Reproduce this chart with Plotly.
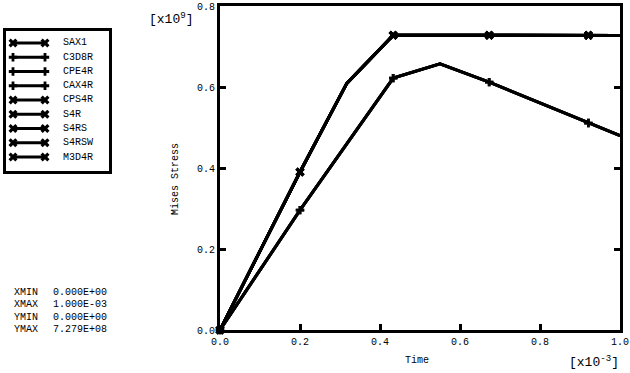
import plotly.graph_objects as go

# ---- data (Time in 1e-3 s, Mises stress in 1e9 Pa) ----
time_upper = [0.0, 0.2, 0.317, 0.433, 0.673, 0.921, 1.0]
stress_upper = [0.0, 0.390, 0.609, 0.728, 0.7279, 0.7275, 0.7272]
marked_upper = [0, 1, 3, 4, 5]

time_lower = [0.0, 0.2, 0.433, 0.55, 0.673, 0.921, 1.0]
stress_lower = [0.0, 0.296, 0.622, 0.657, 0.612, 0.511, 0.480]
marked_lower = [0, 1, 2, 4, 5]

series_names = ["SAX1", "C3D8R", "CPE4R", "CAX4R", "CPS4R", "S4R", "S4RS", "S4RSW", "M3D4R"]
series_curve = ["upper", "lower", "lower", "lower", "upper", "upper", "upper", "upper", "upper"]

x_ticks = [0.0, 0.2, 0.4, 0.6, 0.8, 1.0]
y_ticks = [0.0, 0.2, 0.4, 0.6, 0.8]

stats_labels = ["XMIN", "XMAX", "YMIN", "YMAX"]
stats_values = ["0.000E+00", "1.000E-03", "0.000E+00", "7.279E+08"]

FONT = "Liberation Mono"
INK = "black"
W, H = 630, 373
LEG_W, LEG_H = 130, 185  # pixel extent of the legend overlay axes

def px_x(p):
    return p / W

def px_y(p):
    return 1 - p / H

def txt(size=10):
    return dict(family=FONT, size=size, color=INK)

styles = {
    "upper": dict(x=time_upper, y=stress_upper, marked=marked_upper, symbol="x", size=8),
    "lower": dict(x=time_lower, y=stress_lower, marked=marked_lower, symbol="cross", size=7),
}

fig = go.Figure()
for name, c in zip(series_names, series_curve):
    s = styles[c]
    sizes = [s["size"] if i in s["marked"] else 0 for i in range(len(s["x"]))]
    fig.add_trace(go.Scatter(
        x=s["x"], y=s["y"], name=name, mode="lines+markers",
        line=dict(color=INK, width=3),
        marker=dict(symbol=s["symbol"], size=sizes, color=INK, line=dict(width=0)),
        cliponaxis=False, showlegend=False,
    ))

# ---- hand-drawn legend (pixel-space axes in the left margin) ----
LEG_X0, LEG_X1 = 13, 45
LEG_ROW0, LEG_STEP = 43, 14.25
for i, (name, c) in enumerate(zip(series_names, series_curve)):
    s = styles[c]
    yy = LEG_ROW0 + i * LEG_STEP
    fig.add_trace(go.Scatter(
        x=[LEG_X0, LEG_X1], y=[yy, yy], mode="lines+markers",
        xaxis="x2", yaxis="y2", showlegend=False, hoverinfo="skip",
        line=dict(color=INK, width=3),
        marker=dict(symbol=s["symbol"], size=s["size"], color=INK, line=dict(width=0)),
        cliponaxis=False,
    ))
    fig.add_annotation(text=name, xref="paper", yref="paper",
                       x=px_x(61), y=px_y(yy), xanchor="left", yanchor="middle",
                       showarrow=False, font=txt())
fig.add_shape(type="rect", xref="paper", yref="paper",
              x0=px_x(4.5), x1=px_x(110.5), y0=px_y(29.5), y1=px_y(172.5),
              line=dict(color=INK, width=3), fillcolor="rgba(0,0,0,0)")

fig.update_layout(
    template="none",
    width=W, height=H, autosize=False,
    margin=dict(l=0, r=0, t=0, b=0, pad=0),
    paper_bgcolor="white", plot_bgcolor="rgba(0,0,0,0)",
    font=txt(),
    showlegend=False,
    xaxis=dict(
        domain=[220 / W, 620 / W], automargin=False,
        range=[0, 1.0], tickvals=x_ticks, ticktext=[f"{v:.1f}" for v in x_ticks],
        ticks="inside", ticklen=6, tickwidth=3, tickcolor=INK, tickfont=txt(),
        showline=True, linewidth=3, linecolor=INK, mirror=True,
        showgrid=False, zeroline=False,
    ),
    yaxis=dict(
        domain=[1 - 330 / H, 1 - 6 / H], automargin=False,
        range=[0, 0.8], tickvals=y_ticks, ticktext=[f"{v:.1f}" for v in y_ticks],
        ticks="inside", ticklen=6, tickwidth=3, tickcolor=INK, tickfont=txt(),
        showline=True, linewidth=3, linecolor=INK, mirror="ticks",
        showgrid=False, zeroline=False,
    ),
    xaxis2=dict(domain=[0, LEG_W / W], range=[0, LEG_W], visible=False,
                fixedrange=True, automargin=False, anchor="y2"),
    yaxis2=dict(domain=[1 - LEG_H / H, 1], range=[LEG_H, 0], visible=False,
                fixedrange=True, automargin=False, anchor="x2"),
)

fig.add_annotation(text="Mises Stress", textangle=-90, xref="paper", yref="paper",
                   x=px_x(175), y=px_y(179), xanchor="center", yanchor="middle",
                   showarrow=False, font=txt())
fig.add_annotation(text="Time", xref="paper", yref="paper",
                   x=px_x(417), y=px_y(360), xanchor="center", yanchor="middle",
                   showarrow=False, font=txt())
fig.add_annotation(text="[x10<sup>9</sup>]", xref="paper", yref="paper",
                   x=px_x(172), y=px_y(18), xanchor="center", yanchor="middle",
                   showarrow=False, font=txt(13))
fig.add_annotation(text="[x10<sup>-3</sup>]", xref="paper", yref="paper",
                   x=px_x(594), y=px_y(361), xanchor="center", yanchor="middle",
                   showarrow=False, font=txt(13))

stats_rows = [292, 304, 317, 329]
for lab, val, yy in zip(stats_labels, stats_values, stats_rows):
    fig.add_annotation(text=lab, xref="paper", yref="paper",
                       x=px_x(12), y=px_y(yy), xanchor="left", yanchor="middle",
                       showarrow=False, font=txt())
    fig.add_annotation(text=val, xref="paper", yref="paper",
                       x=px_x(51), y=px_y(yy), xanchor="left", yanchor="middle",
                       showarrow=False, font=txt())

fig.write_html("out.html", config={"displayModeBar": False},
               post_script="document.body.style.margin='0px';")
